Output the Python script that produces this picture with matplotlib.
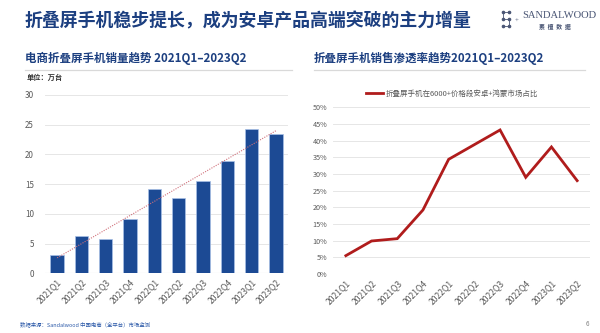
import numpy as np
import matplotlib
matplotlib.use("Agg")
import matplotlib.pyplot as plt
from matplotlib.lines import Line2D

plt.rcParams['font.family'] = ['Noto Sans CJK SC', 'DejaVu Sans']

quarters = ["2021Q1", "2021Q2", "2021Q3", "2021Q4", "2022Q1", "2022Q2",
            "2022Q3", "2022Q4", "2023Q1", "2023Q2"]
sales = [3.1, 6.2, 5.8, 9.1, 14.1, 12.6, 15.5, 18.9, 24.2, 23.4]
share = [0.055, 0.099, 0.106, 0.192, 0.344, 0.388, 0.432, 0.290, 0.381, 0.280]
left_yticks = [0, 5, 10, 15, 20, 25, 30]
right_yticks = [0, 0.05, 0.10, 0.15, 0.20, 0.25, 0.30, 0.35, 0.40, 0.45, 0.50]

W, H = 600, 333
fig = plt.figure(figsize=(6, 3.33), dpi=100)
fig.patch.set_facecolor('white')

def fx(px):
    return px / W

def fy(py):
    return 1 - py / H

NAVY = '#1c3f80'
BAR = '#1c4a94'
GRID = '#e6e6e6'
TICK = '#595959'

# Title
fig.text(fx(25), fy(21), "折叠屏手机稳步提长，成为安卓产品高端突破的主力增量",
         fontsize=12.9, fontweight='bold', color=NAVY, va='center', ha='left')

# Logo
logo_col = '#4a5675'
icon_x = [fx(503), fx(509), fx(503), fx(509), fx(503), fx(509)]
icon_y = [fy(12), fy(12), fy(19), fy(19), fy(26), fy(26)]
fig.add_artist(Line2D([fx(503), fx(509)], [fy(12), fy(12)], color=logo_col, lw=0.6))
fig.add_artist(Line2D([fx(503), fx(503)], [fy(12), fy(19)], color=logo_col, lw=0.6))
fig.add_artist(Line2D([fx(503), fx(509)], [fy(19), fy(19)], color=logo_col, lw=0.6))
fig.add_artist(Line2D([fx(509), fx(509)], [fy(19), fy(26)], color=logo_col, lw=0.6))
fig.add_artist(Line2D([fx(503), fx(509)], [fy(26), fy(26)], color=logo_col, lw=0.6))
fig.add_artist(Line2D(icon_x, icon_y, ls='none', marker='o', ms=1.6,
                      color=logo_col))
fig.text(fx(517), fy(21), "+", fontsize=5, color=logo_col, ha='center', va='center',
         family='Liberation Serif')
fig.text(fx(522), fy(15), "SANDALWOOD", fontsize=7.6, color=logo_col, ha='left',
         va='center', family='Liberation Serif')
fig.text(fx(555), fy(27), "素  檀  数  据", fontsize=4.2, color=logo_col, ha='center',
         va='center', fontweight='bold')

# Subtitles and separators
fig.text(fx(25), fy(58), "电商折叠屏手机销量趋势 2021Q1–2023Q2", fontsize=8.3,
         fontweight='bold', color=NAVY, va='center', ha='left')
fig.add_artist(Line2D([fx(25), fx(292)], [fy(70), fy(70)], color='#d9d9d9', lw=0.9))
fig.text(fx(27), fy(77), "单位：万台", fontsize=5.2, fontweight='bold', color='#333333',
         va='center', ha='left')

fig.text(fx(314), fy(58), "折叠屏手机销售渗透率趋势2021Q1–2023Q2", fontsize=8.3,
         fontweight='bold', color=NAVY, va='center', ha='left')
fig.add_artist(Line2D([fx(314), fx(585)], [fy(70), fy(70)], color='#d9d9d9', lw=0.9))

# Left chart
axL = fig.add_axes([fx(45), fy(273.3), fx(288 - 45), (273.3 - 95) / H])
x = np.arange(len(quarters))
axL.bar(x, sales, width=0.55, color=BAR, edgecolor='#a8c0e6', linewidth=0.5, zorder=3)
coef = np.polyfit(x, sales, 1)
axL.plot(x, np.polyval(coef, x), ls=(0, (1, 1.2)), color='#d0707a', lw=0.8, zorder=4)
axL.set_xlim(-0.5, 9.5)
axL.set_ylim(0, 30)
axL.set_yticks(left_yticks)
axL.set_yticklabels([str(v) for v in left_yticks])
axL.set_xticks(x)
axL.set_xticklabels(quarters, rotation=45, ha='right', rotation_mode='anchor')
axL.tick_params(axis='y', length=0, labelsize=5.8, labelcolor=TICK, pad=8)
axL.tick_params(axis='x', length=0, labelsize=6.2, labelcolor=TICK, pad=3)
axL.grid(axis='y', color=GRID, lw=0.7, zorder=0)
for s in axL.spines.values():
    s.set_visible(False)
axL.axhline(0, color='#d9d9d9', lw=0.8, zorder=2)

# Right chart
axR = fig.add_axes([fx(333), fy(274), fx(590 - 333), (274 - 107.3) / H])
axR.plot(x, share, color='#b01c1c', lw=2.0, solid_joinstyle='miter', zorder=3,
         label="折叠屏手机在6000+价格段安卓+鸿蒙市场占比")
axR.set_xlim(-0.5, 9.5)
axR.set_ylim(0, 0.5)
axR.set_yticks(right_yticks)
axR.set_yticklabels([f"{int(round(v * 100))}%" for v in right_yticks])
axR.set_xticks(x)
axR.set_xticklabels(quarters, rotation=45, ha='right', rotation_mode='anchor')
axR.tick_params(axis='y', length=0, labelsize=5.2, labelcolor=TICK, pad=4)
axR.tick_params(axis='x', length=0, labelsize=6.2, labelcolor=TICK, pad=3)
axR.grid(axis='y', color=GRID, lw=0.7, zorder=0)
for s in axR.spines.values():
    s.set_visible(False)
leg = fig.legend(handles=axR.get_lines(), loc='center left',
                 bbox_to_anchor=(fx(366), fy(94)), frameon=False, fontsize=5.4,
                 handlelength=2.2, handletextpad=0.4, borderaxespad=0, borderpad=0)
for t in leg.get_texts():
    t.set_color(TICK)

# Footer
fig.text(fx(20), fy(324), "数据来源：Sandalwood 中国电商（全平台）市场监测", fontsize=3.9,
         color='#2a58a8', va='center', ha='left')
fig.text(fx(587), fy(324), "6", fontsize=4.5, color='#808080', va='center', ha='center')

fig.savefig("out.png", dpi=100, facecolor='white')
